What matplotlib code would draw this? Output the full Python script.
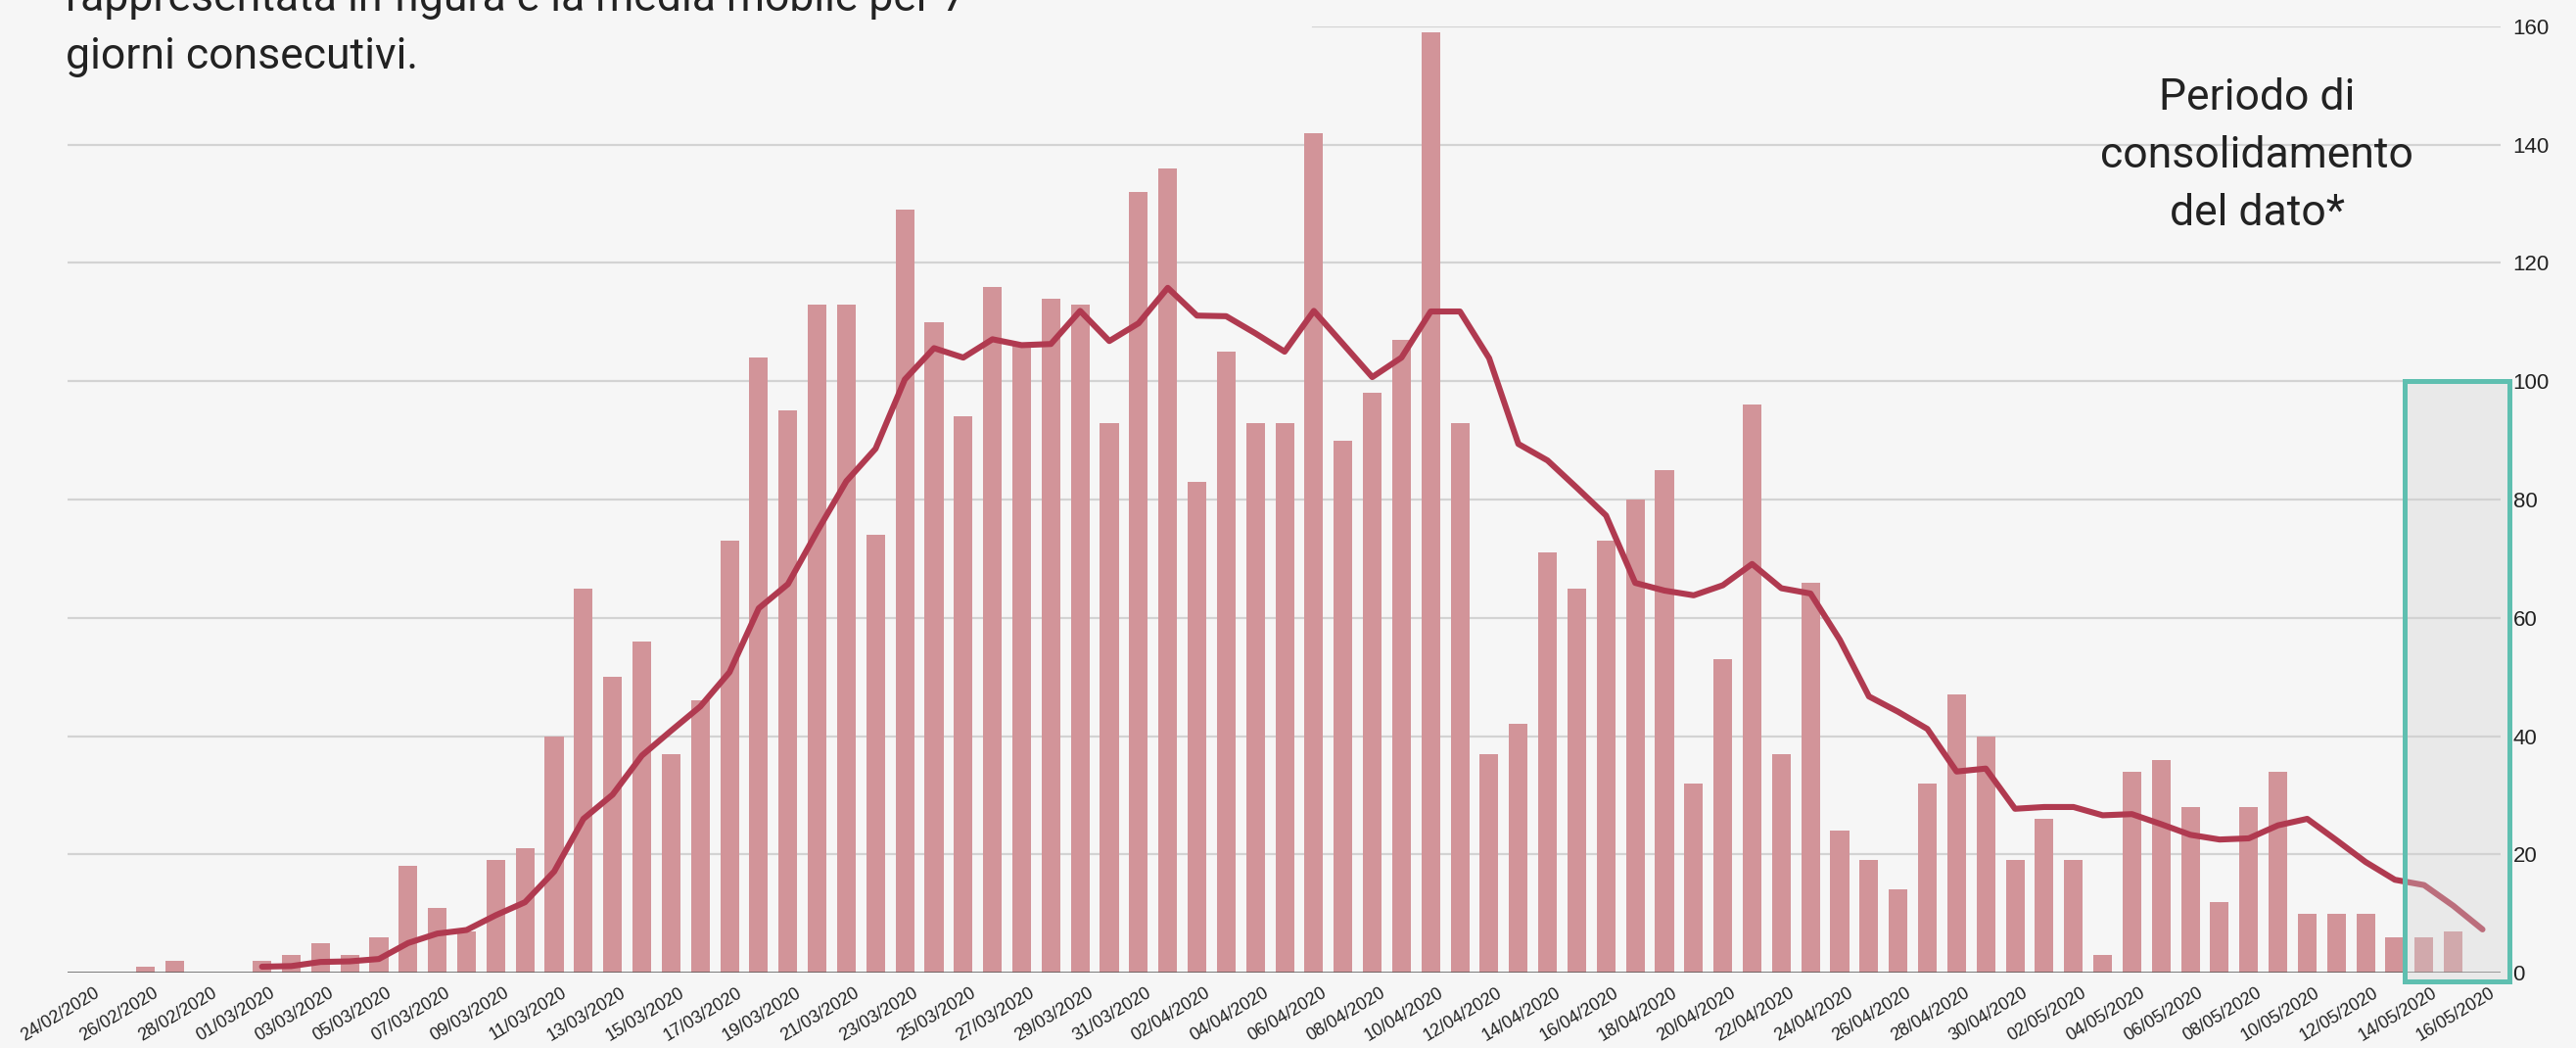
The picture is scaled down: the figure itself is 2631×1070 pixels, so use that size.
import matplotlib
matplotlib.use('Agg')
import matplotlib.pyplot as plt
from matplotlib.patches import Rectangle
from matplotlib.transforms import ScaledTranslation
import numpy as np
import pandas as pd

# one entry per day, 24/02/2020 .. 16/05/2020
days = pd.date_range('2020-02-24', '2020-05-16').strftime('%d/%m/%Y').tolist()

daily = [0, 0, 1, 2, 0, 0, 2, 3, 5, 3, 6, 18, 11, 7, 19, 21, 40, 65, 50, 56,
         37, 46, 73, 104, 95, 113, 113, 74, 129, 110, 94, 116, 106, 114, 113, 93,
         132, 136, 83, 105, 93, 93, 142, 90, 98, 107, 159, 93, 37, 42, 71, 65, 73,
         80, 85, 32, 53, 96, 37, 66, 24, 19, 14, 32, 47, 40, 19, 26, 19, 3, 34, 36,
         28, 12, 28, 34, 10, 10, 10, 6, 6, 7, 0]

# media mobile 7 giorni (starts 01/03)
media_mobile = [np.nan] * 6 + [
    1.0, 1.1, 1.8, 1.9, 2.3, 5.0, 6.6, 7.2, 9.7, 11.9, 17.1, 26.0, 30.1, 36.7,
    40.9, 45.0, 50.8, 61.6, 65.7, 74.6, 83.1, 88.6, 100.3, 105.6, 104.0, 107.1,
    106.1, 106.3, 111.9, 106.8, 109.8, 115.8, 111.1, 111.0, 108.1, 105.0, 111.9,
    106.3, 100.7, 104.0, 111.8, 111.8, 103.9, 89.4, 86.6, 82.0, 77.3, 65.9, 64.6,
    63.8, 65.5, 69.1, 65.0, 64.1, 56.3, 46.7, 44.1, 41.2, 34.0, 34.5, 27.7, 28.0,
    28.0, 26.6, 26.8, 25.1, 23.3, 22.5, 22.7, 24.9, 26.0, 22.4, 18.7, 15.7, 14.8,
    11.3, 7.3]

y_ticks = [0, 20, 40, 60, 80, 100, 120, 140, 160]
consolidation = ('14/05/2020', '16/05/2020', 100)

bg = '#f6f6f6'
W, H = 2631, 1070

fig = plt.figure(figsize=(W / 100, H / 100), dpi=100, facecolor=bg)
ax = fig.add_axes([69 / W, 77 / H, 2485 / W, 966 / H])
ax.set_facecolor(bg)

x = np.arange(len(days))
ax.bar(x, daily, width=0.64, color='#d29499', zorder=2)
ax.plot(x, media_mobile, color='#b03a50', lw=4.4, zorder=4,
        solid_joinstyle='round', solid_capstyle='round')

# gridlines (top one is hidden by the text box on the left)
for v in y_ticks[1:]:
  ax.axhline(v, color='#d3d3d3', lw=1.6, zorder=0, xmin=0.512 if v == 160 else 0)
ax.axhline(0, color='#555555', lw=1.8, zorder=3)

# consolidation box
x0 = days.index(consolidation[0]) - 0.67
x1 = days.index(consolidation[1]) + 0.92
ax.add_patch(Rectangle((x0, -1.5), x1 - x0, consolidation[2] + 1.5,
                       facecolor=(0.82, 0.82, 0.82, 0.35), edgecolor='#5fbfb0',
                       lw=3.6, zorder=5, clip_on=False))

ax.set_xlim(-0.657, 82.62)
ax.set_ylim(0, 160)
for s in ax.spines.values():
  s.set_visible(False)

ax.yaxis.tick_right()
ax.set_yticks(y_ticks)
ax.set_yticklabels([str(v) for v in y_ticks], family='Liberation Sans', fontsize=16, color='#222222')
ax.tick_params(axis='y', length=0, pad=9)

ax.set_xticks(x[::2])
ax.set_xticklabels(days[::2], rotation=31, ha='right', va='top', rotation_mode='anchor',
                   family='Liberation Sans', fontsize=13, color='#222222')
ax.tick_params(axis='x', length=0, pad=0)
offset = ScaledTranslation(7.5 / 100, -12 / 100, fig.dpi_scale_trans)
for lab in ax.get_xticklabels():
  lab.set_transform(lab.get_transform() + offset)

# multi-line baseline alignment goes on the last line
fig.text(67 / W, 1 - 70 / H,
         'rappresentata in figura è la media mobile per 7\ngiorni consecutivi.',
         family='Roboto', fontsize=32, color='#222222', ha='left', va='baseline',
         linespacing=1.52)
fig.text(2305 / W, 1 - 230 / H, 'Periodo di\nconsolidamento\ndel dato*',
         family='Roboto', fontsize=32, color='#222222', ha='center', va='baseline',
         multialignment='center', linespacing=1.52)

fig.savefig('out.png', dpi=100, facecolor=bg)
